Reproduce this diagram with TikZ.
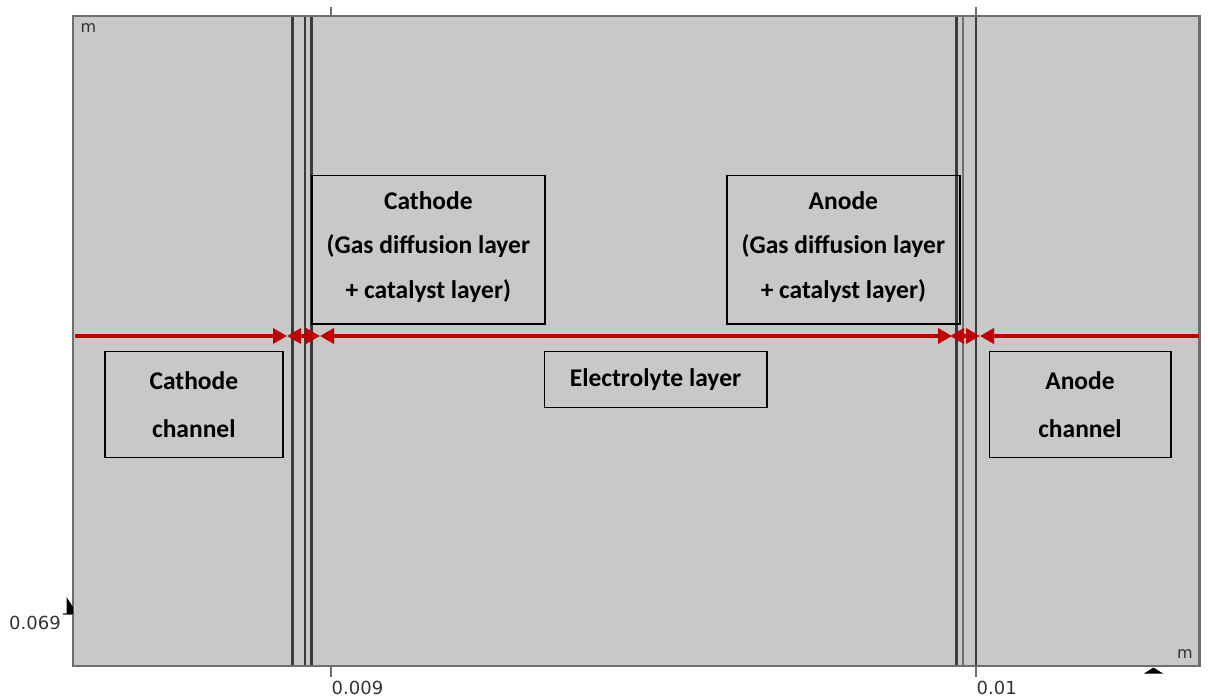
\documentclass[tikz,border=0pt]{standalone}
\usepackage{fontspec}
\setmainfont{Carlito}
\newfontfamily\axisfont{DejaVu Sans}
\usetikzlibrary{arrows.meta}
\definecolor{bg}{HTML}{C8C8C8}
\definecolor{framecol}{HTML}{6E6E6E}
\definecolor{layerline}{HTML}{3A3A3A}
\definecolor{layerlight}{HTML}{707070}
\definecolor{arrowred}{HTML}{C00000}
\definecolor{axistext}{HTML}{333333}
\tikzset{
  labelbox/.style={draw=black, line width=1.6pt, inner sep=0pt, align=center,
    font=\fontsize{25.5}{44.5}\selectfont\bfseries},
  gdltext/.style={inner sep=0pt, align=center, font=\fontsize{25.5}{44.5}\selectfont\bfseries},
  chanbox/.style={labelbox, font=\fontsize{25.5}{48}\selectfont\bfseries},
  layer/.style={draw=layerline, line width=2.2pt},
  layerlt/.style={draw=layerlight, line width=2.6pt},
  dimarrow/.style={draw=arrowred, line width=4pt,
    arrows={Triangle[length=14pt,width=15pt,fill=arrowred]-Triangle[length=14pt,width=15pt,fill=arrowred]}},
  dimarrowR/.style={draw=arrowred, line width=4pt,
    arrows={-Triangle[length=14pt,width=15pt,fill=arrowred]}},
  dimarrowL/.style={draw=arrowred, line width=4pt,
    arrows={Triangle[length=14pt,width=15pt,fill=arrowred]-}},
  axislabel/.style={inner sep=0pt, text=axistext, font=\axisfont\fontsize{18}{18}\selectfont},
  unitlabel/.style={inner sep=0pt, text=axistext, font=\axisfont\fontsize{16}{16}\selectfont},
  tick/.style={draw=framecol, line width=2pt},
}
\begin{document}
\begin{tikzpicture}[x=1pt,y=-1pt]
\useasboundingbox (0,0) rectangle (1208,700);
% domain
\fill[bg] (73,16) rectangle (1199.5,666);
% layer boundaries
\draw[layer] (292.5,16) -- (292.5,666);
\draw[layer] (305,16) -- (305,666);
\draw[layer] (311.5,16) -- (311.5,666);
\draw[layer] (956.5,16) -- (956.5,666);
\draw[layerlt] (963,16) -- (963,666);
\draw[layer] (976,16) -- (976,666);
\draw[draw=framecol, line width=2.6pt] (73,16) rectangle (1199.5,666);
% ticks
\draw[tick] (331,7) -- (331,16);
\draw[tick] (331,666) -- (331,677);
\draw[tick] (976,7) -- (976,16);
\draw[tick] (976,666) -- (976,677);
\draw[tick] (62.5,613.5) -- (73,613.5);
\fill[black] (66.5,597) -- (73,607) -- (73,614) -- (66.5,614) -- cycle;
\fill[black] (1144,673.5) -- (1153.5,667.5) -- (1163,673.5) -- cycle;
% axis labels
\node[unitlabel, anchor=west] (mtop) at (80.5,28.5) {m};
\node[unitlabel, anchor=west] (mbot) at (1177,654.5) {m};
\node[axislabel, anchor=west] (y069) at (9,623) {0.069};
\node[axislabel, anchor=west] (x009) at (331.5,687.5) {0.009};
\node[axislabel, anchor=west] (x01) at (976.5,687.5) {0.01};
% label boxes
\node[labelbox, minimum width=233.3pt, minimum height=148.3pt] (cgdl) at (428.35,249.85) {};
\node[gdltext] (cgdltxt) at ([yshift=3pt]cgdl.center)
  {Cathode\\(Gas diffusion layer\\+ catalyst layer)};
\node[labelbox, minimum width=233.3pt, minimum height=148.3pt] (agdl) at (843.35,249.85) {};
\node[gdltext] (agdltxt) at ([yshift=3pt]agdl.center)
  {Anode\\(Gas diffusion layer\\+ catalyst layer)};
\node[chanbox, minimum width=177.7pt, minimum height=106pt] (cchan) at (193.85,404.7)
  {Cathode\\channel};
\node[labelbox, minimum width=222.4pt, minimum height=56pt] (elec) at (655.5,379.7)
  {Electrolyte layer};
\node[chanbox, minimum width=181.4pt, minimum height=106pt] (achan) at (1080,404.7)
  {Anode\\channel};
% dimension arrows
\coordinate (p0) at (75,336);
\coordinate (p1) at (287,336);
\coordinate (p2) at (320,336);
\coordinate (p3) at (952,336);
\coordinate (p3b) at (950,336);
\coordinate (p4) at (980,336);
\coordinate (p5) at (1199,336);
\draw[dimarrowR] (p0) -- (p1);
\draw[dimarrow] (p1) -- (p2);
\draw[dimarrow] (p2) -- (p3);
\draw[dimarrow] (p3b) -- (p4);
\draw[dimarrowL] (p4) -- (p5);
\end{tikzpicture}
\end{document}
